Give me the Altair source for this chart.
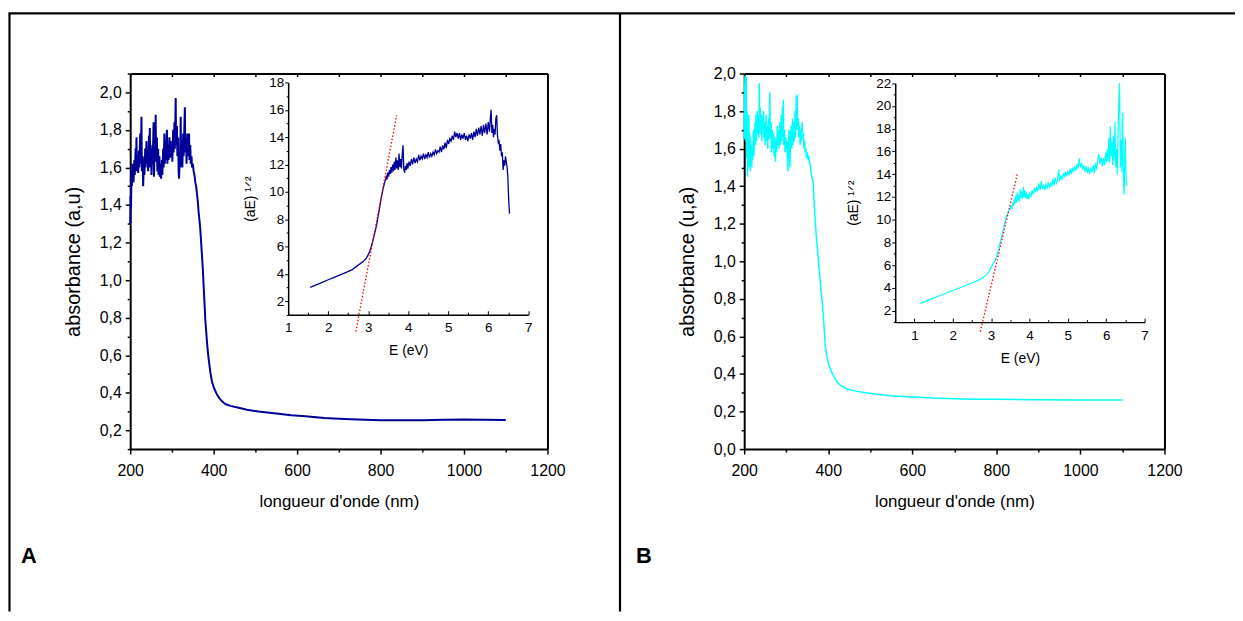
import altair as alt
import pandas as pd

FONT = "Liberation Sans"
W, H = 1235, 605

# ---------------- Sample A : absorbance vs wavelength ----------------
wl_A = [200, 201, 202, 203, 204, 205, 206, 207, 208, 210, 211, 213, 214, 215, 216, 218, 219,
        221, 222, 224, 225, 227, 228, 230, 231, 233, 234, 236, 237, 239, 240, 242, 243, 245,
        246, 247, 248, 250, 251, 253, 254, 256, 257, 259, 260, 261, 262, 264, 265, 267, 268,
        270, 271, 273, 274, 276, 277, 279, 280, 282, 283, 285, 286, 288, 289, 291, 292, 294,
        295, 297, 298, 300, 301, 303, 304, 306, 307, 309, 310, 312, 313, 315, 316, 317, 319,
        320, 321, 322, 324, 325, 327, 328, 330, 331, 332, 334, 335, 337, 338, 340, 341, 342,
        344, 345, 347, 348, 350, 352, 354, 356, 358, 360, 362, 364, 366, 368, 370, 372, 374,
        376, 378, 380, 382, 384, 386, 388, 392, 396, 400, 404, 408, 414, 420, 428, 440, 460,
        480, 507, 550, 586, 620, 665, 700, 745, 800, 850, 900, 950, 1000, 1050, 1100]
abs_A = [1.30, 1.45, 1.38, 1.58, 1.50, 1.62, 1.54, 1.60, 1.52, 1.64, 1.56, 1.70, 1.58, 1.76,
         1.60, 1.66, 1.57, 1.69, 1.60, 1.78, 1.62, 1.87, 1.58, 1.66, 1.50, 1.64, 1.56, 1.70,
         1.60, 1.74, 1.62, 1.68, 1.58, 1.77, 1.64, 1.81, 1.60, 1.70, 1.56, 1.72, 1.62, 1.84,
         1.55, 1.75, 1.63, 1.88, 1.66, 1.76, 1.58, 1.70, 1.56, 1.66, 1.55, 1.62, 1.54, 1.64,
         1.56, 1.70, 1.60, 1.78, 1.62, 1.74, 1.64, 1.80, 1.62, 1.72, 1.64, 1.76, 1.65, 1.74,
         1.66, 1.72, 1.63, 1.80, 1.68, 1.84, 1.70, 1.97, 1.72, 1.82, 1.66, 1.76, 1.58, 1.54,
         1.66, 1.60, 1.87, 1.64, 1.74, 1.60, 1.78, 1.66, 1.84, 1.92, 1.68, 1.76, 1.62, 1.78,
         1.66, 1.74, 1.78, 1.64, 1.72, 1.62, 1.66, 1.60, 1.62, 1.58, 1.56, 1.52, 1.50, 1.46,
         1.42, 1.36, 1.32, 1.27, 1.20, 1.13, 1.06, 0.97, 0.88, 0.79, 0.73, 0.67, 0.62, 0.58,
         0.51, 0.46, 0.43, 0.41, 0.39, 0.37, 0.355, 0.34, 0.33, 0.32, 0.31, 0.30, 0.29, 0.28,
         0.275, 0.265, 0.261, 0.257, 0.254, 0.253, 0.254, 0.256, 0.258, 0.256, 0.255]

# ---------------- Sample A : (aE)^1/2 vs E (inset) ----------------
e_A = [1.55, 1.70, 1.85, 2.00, 2.15, 2.30, 2.45, 2.60, 2.70, 2.78, 2.85, 2.90, 2.95, 3.00,
       3.04, 3.07, 3.10, 3.13, 3.16, 3.19, 3.22, 3.25, 3.28, 3.31, 3.34, 3.37, 3.40, 3.43,
       3.45, 3.47, 3.49, 3.51, 3.53, 3.55, 3.57, 3.59, 3.61, 3.63, 3.65, 3.67, 3.69, 3.71,
       3.73, 3.75, 3.77, 3.79, 3.81, 3.83, 3.85, 3.87, 3.89, 3.91, 3.93, 3.95, 3.97, 3.99,
       4.02, 4.05, 4.08, 4.11, 4.14, 4.17, 4.20, 4.23, 4.26, 4.29, 4.32, 4.35, 4.38, 4.41,
       4.44, 4.47, 4.50, 4.53, 4.56, 4.59, 4.62, 4.65, 4.68, 4.71, 4.74, 4.77, 4.80, 4.83,
       4.86, 4.89, 4.92, 4.95, 4.98, 5.01, 5.04, 5.07, 5.10, 5.13, 5.16, 5.19, 5.22, 5.25,
       5.28, 5.31, 5.34, 5.37, 5.40, 5.43, 5.46, 5.49, 5.52, 5.55, 5.58, 5.61, 5.64, 5.67,
       5.70, 5.73, 5.76, 5.79, 5.82, 5.85, 5.88, 5.91, 5.94, 5.97, 6.00, 6.03, 6.05, 6.07,
       6.09, 6.11, 6.13, 6.15, 6.17, 6.19, 6.21, 6.23, 6.25, 6.27, 6.29, 6.31, 6.33, 6.35,
       6.37, 6.39, 6.41, 6.43, 6.45, 6.47, 6.49, 6.51, 6.53]
sq_A = [3.00, 3.18, 3.37, 3.56, 3.74, 3.92, 4.10, 4.30, 4.52, 4.70, 4.85, 4.97, 5.12, 5.40,
        5.65, 5.95, 6.25, 6.60, 6.95, 7.30, 7.75, 8.25, 8.75, 9.30, 9.75, 10.20, 10.55, 10.85,
        11.10, 10.90, 11.40, 11.10, 11.60, 11.30, 11.80, 11.40, 12.00, 11.50, 12.20, 11.60,
        12.50, 11.70, 12.30, 11.60, 12.80, 11.80, 12.40, 11.70, 12.70, 13.40, 11.60, 11.40,
        11.90, 11.60, 12.10, 11.70, 12.20, 11.90, 12.40, 12.00, 12.50, 12.10, 12.40, 12.20,
        12.70, 12.30, 12.60, 12.40, 12.80, 12.40, 12.70, 12.50, 12.90, 12.50, 12.80, 12.60,
        12.90, 12.70, 13.10, 12.80, 13.00, 12.90, 13.30, 12.90, 13.40, 13.10, 13.60, 13.20,
        13.80, 13.50, 13.90, 13.70, 14.10, 13.80, 14.40, 14.00, 14.30, 13.90, 14.30, 13.80,
        14.20, 13.90, 14.30, 13.80, 14.10, 13.70, 14.20, 13.90, 14.30, 13.80, 14.40, 14.00,
        14.60, 14.10, 14.70, 14.20, 14.80, 14.10, 14.90, 14.30, 15.00, 14.20, 15.10, 14.40,
        15.30, 16.00, 14.30, 14.90, 14.00, 14.60, 14.20, 15.40, 15.60, 14.10, 13.60, 13.70,
        13.00, 13.50, 12.60, 12.90, 11.60, 12.30, 11.90, 12.60, 12.20, 11.80, 11.00, 9.40, 8.40]
fit_A_e = [2.69, 3.71]
fit_A_y = [-0.23, 15.6]

# ---------------- Sample B : absorbance vs wavelength ----------------
wl_B = [200, 201, 202, 203, 204, 205, 206, 207, 208, 209, 210, 211, 212, 213, 214, 215, 216,
        217, 218, 219, 220, 222, 223, 224, 226, 227, 228, 229, 231, 232, 234, 235, 236, 237,
        238, 239, 241, 242, 243, 245, 246, 247, 249, 250, 252, 253, 255, 256, 258, 259, 261,
        262, 264, 265, 267, 268, 270, 271, 273, 274, 276, 277, 279, 280, 282, 283, 285, 286,
        288, 289, 291, 292, 293, 294, 296, 297, 299, 300, 302, 303, 304, 305, 307, 308, 309,
        310, 312, 313, 315, 316, 318, 319, 321, 322, 324, 325, 326, 327, 329, 330, 332, 333,
        335, 336, 338, 339, 341, 342, 344, 345, 347, 348, 350, 352, 354, 356, 358, 360, 362,
        364, 368, 372, 376, 380, 384, 388, 390, 393, 396, 400, 403, 408, 415, 422, 431, 445,
        462, 490, 525, 557, 604, 650, 700, 750, 800, 900, 1000, 1100]
abs_B = [1.65, 1.90, 1.99, 1.70, 1.64, 1.98, 1.55, 1.80, 1.45, 1.72, 1.50, 1.78, 1.52, 1.68,
         1.48, 1.66, 1.53, 1.62, 1.50, 1.60, 1.54, 1.70, 1.56, 1.64, 1.74, 1.62, 1.78, 1.64,
         1.80, 1.68, 1.76, 1.66, 1.95, 1.70, 1.82, 1.68, 1.78, 1.64, 1.76, 1.70, 1.80, 1.66,
         1.74, 1.62, 1.78, 1.64, 1.72, 1.60, 1.76, 1.65, 1.90, 1.66, 1.74, 1.58, 1.70, 1.60,
         1.68, 1.56, 1.66, 1.53, 1.64, 1.58, 1.72, 1.62, 1.70, 1.60, 1.74, 1.62, 1.78, 1.64,
         1.82, 1.66, 1.86, 1.62, 1.70, 1.58, 1.66, 1.60, 1.64, 1.55, 1.48, 1.62, 1.70, 1.56,
         1.50, 1.66, 1.72, 1.60, 1.76, 1.62, 1.74, 1.64, 1.80, 1.66, 1.88, 1.70, 1.89, 1.72,
         1.76, 1.66, 1.72, 1.62, 1.70, 1.64, 1.74, 1.66, 1.68, 1.60, 1.64, 1.58, 1.60, 1.55,
         1.58, 1.54, 1.56, 1.52, 1.50, 1.46, 1.44, 1.43, 1.25, 1.12, 1.02, 0.92, 0.82, 0.72,
         0.65, 0.55, 0.50, 0.46, 0.44, 0.41, 0.38, 0.355, 0.335, 0.32, 0.31, 0.30, 0.29, 0.283,
         0.278, 0.272, 0.268, 0.266, 0.265, 0.263, 0.262, 0.261]

# ---------------- Sample B : (aE)^1/2 vs E (inset) ----------------
e_B = [1.15, 1.40, 1.65, 1.90, 2.15, 2.40, 2.60, 2.72, 2.81, 2.88, 2.94, 2.98, 3.04, 3.11,
       3.17, 3.22, 3.27, 3.32, 3.37, 3.41, 3.45, 3.50, 3.52, 3.54, 3.56, 3.58, 3.60, 3.62,
       3.64, 3.66, 3.68, 3.70, 3.72, 3.74, 3.76, 3.78, 3.80, 3.82, 3.84, 3.86, 3.88, 3.90,
       3.92, 3.94, 3.96, 3.98, 4.01, 4.04, 4.07, 4.10, 4.13, 4.16, 4.19, 4.22, 4.25, 4.28,
       4.31, 4.34, 4.37, 4.40, 4.43, 4.46, 4.49, 4.52, 4.55, 4.58, 4.61, 4.64, 4.67, 4.70,
       4.73, 4.76, 4.79, 4.82, 4.85, 4.88, 4.91, 4.94, 4.97, 5.00, 5.03, 5.06, 5.09, 5.12,
       5.15, 5.18, 5.21, 5.24, 5.27, 5.30, 5.33, 5.36, 5.39, 5.42, 5.45, 5.48, 5.51, 5.54,
       5.57, 5.60, 5.63, 5.66, 5.69, 5.72, 5.75, 5.78, 5.81, 5.84, 5.87, 5.90, 5.93, 5.96,
       5.99, 6.01, 6.03, 6.05, 6.07, 6.09, 6.11, 6.13, 6.15, 6.17, 6.19, 6.21, 6.23, 6.25,
       6.27, 6.29, 6.31, 6.33, 6.35, 6.37, 6.39, 6.41, 6.43, 6.45, 6.47, 6.49, 6.50, 6.52, 6.54]
sq_B = [2.65, 2.98, 3.32, 3.65, 3.98, 4.31, 4.58, 4.78, 4.97, 5.15, 5.40, 5.70, 6.05, 6.43,
        7.05, 7.74, 8.45, 9.20, 9.85, 10.36, 10.70, 10.95, 11.20, 10.90, 11.50, 11.20, 11.80,
        11.40, 12.10, 11.50, 12.40, 11.70, 12.20, 11.60, 12.70, 11.90, 12.50, 11.80, 12.90,
        12.00, 12.60, 11.90, 12.40, 11.80, 12.20, 11.80, 12.30, 12.00, 12.60, 12.20, 12.80,
        12.40, 12.90, 12.50, 13.20, 12.60, 13.40, 12.70, 13.00, 12.60, 13.10, 12.80, 13.30,
        12.80, 13.20, 12.90, 13.60, 13.00, 13.70, 13.20, 13.50, 14.40, 13.40, 13.90, 13.50,
        14.10, 13.70, 14.20, 13.80, 14.30, 13.90, 14.50, 14.00, 14.60, 14.20, 14.70, 14.30,
        14.90, 14.50, 15.40, 14.60, 15.00, 14.40, 14.80, 14.20, 14.70, 14.10, 14.60, 14.00,
        14.50, 14.20, 14.80, 14.10, 15.00, 14.40, 15.20, 15.80, 14.90, 15.50, 14.70, 15.40,
        14.80, 15.90, 15.00, 16.20, 15.20, 17.20, 15.00, 18.20, 15.60, 16.80, 14.80, 17.40,
        15.20, 18.60, 14.60, 16.20, 14.00, 17.40, 20.50, 22.00, 14.60, 17.00, 14.20, 19.40,
        13.60, 12.20, 16.00, 17.20, 13.60, 13.00]
fit_B_e = [2.72, 3.69]
fit_B_y = [0.17, 14.1]

frame_t = [0, 1]

# ---------------- helpers ----------------
def ax(orient, offset, **kw):
    base = dict(orient=orient, offset=offset, grid=False, domainColor="black",
                tickColor="black", labelColor="black", labelFont=FONT, titleFont=FONT,
                titleColor="black", titleFontWeight="normal", labelOverlap=False,
                labelFlush=False, labelBound=False)
    base.update(kw)
    return alt.Axis(**base)

def tsize(test, major, minor):
    return {"condition": {"test": test, "value": major}, "value": minor}

comma_y = "round(datum.value*10) % 2 == 0 ? replace(format(datum.value, '.1f'), '.', ',') : ''"
comma_t = "round(datum.value*10) % 2 == 0"
x_main_vals = list(range(200, 1201, 100))
y_main_A_vals = [round(0.1 * i, 1) for i in range(1, 22)]
y_main_B_vals = [round(0.1 * i, 1) for i in range(0, 21)]

def main_panel(df, color, width, xr, yd, yr, yvals, ytitle):
    xs = alt.Scale(domain=[200, 1200], range=xr, nice=False, zero=False)
    ys = alt.Scale(domain=yd, range=yr, nice=False, zero=False)
    line = alt.Chart(df).mark_line(color=color, strokeWidth=width, clip=False).encode(
        x=alt.X("wl:Q", scale=xs, title="longueur d'onde (nm)",
                axis=ax("bottom", yr[0] - H, values=x_main_vals, format="d",
                        labelExpr="datum.value % 200 == 0 ? datum.label : ''",
                        tickSize=tsize("datum.value % 200 == 0", 5, 3), tickWidth=1.5,
                        domainWidth=2, labelFontSize=16, titleFontSize=17,
                        labelPadding=9, titlePadding=15)),
        y=alt.Y("a:Q", scale=ys, title=ytitle,
                axis=ax("left", -xr[0], values=yvals, labelExpr=comma_y,
                        tickSize=tsize(comma_t, 5, 3), tickWidth=1.5, domainWidth=2,
                        labelFontSize=16, titleFontSize=20, labelPadding=4,
                        titlePadding=16)),
    )
    frame = alt.Chart(df).mark_point(opacity=0).encode(
        x=alt.X("wl:Q", scale=xs, title="",
                axis=ax("bottom", yr[1] - H, values=x_main_vals, labels=False,
                        tickSize=3, tickWidth=1.5, domainWidth=2)),
        y=alt.Y("a:Q", scale=ys, title="",
                axis=ax("left", -xr[1], labels=False, ticks=False, domainWidth=2)),
    )
    return [line, frame]

def inset_panel(df, fit, color, width, xd, xr, xvals, yd, yr, yvals, ytpad):
    xs = alt.Scale(domain=xd, range=xr, nice=False, zero=False)
    ys = alt.Scale(domain=yd, range=yr, nice=False, zero=False)
    line = alt.Chart(df).mark_line(color=color, strokeWidth=width, clip=False).encode(
        x=alt.X("e:Q", scale=xs, title="E (eV)",
                axis=ax("bottom", yr[0] - H, values=xvals, ticks=False,
                        labelExpr="datum.value % 1 == 0 ? format(datum.value, 'd') : ''",
                        domainWidth=1.5, labelFontSize=13.5, titleFontSize=14,
                        labelPadding=6, titlePadding=10)),
        y=alt.Y("s:Q", scale=ys, title="(aE) \u00b9\u141f\u00b2",
                axis=ax("left", -xr[0], values=yvals,
                        labelExpr="datum.value % 2 == 0 ? format(datum.value, 'd') : ''",
                        tickSize=tsize("datum.value % 2 == 0", 3.5, 2), tickWidth=1,
                        domainWidth=1.5, labelFontSize=13.5, titleFontSize=14,
                        labelPadding=1, titlePadding=ytpad)),
    )
    fitl = alt.Chart(fit).mark_line(color="#ff0000", strokeWidth=1.3, strokeDash=[1.5, 2],
                                    clip=False).encode(
        x=alt.X("e:Q", scale=xs, title="",
                axis=ax("top", -yr[0], values=xvals, labels=False, domain=False,
                        tickSize=tsize("datum.value % 1 == 0", 4, 2.5), tickWidth=1)),
        y=alt.Y("s:Q", scale=ys, axis=None),
    )
    return [line, fitl]

# ---------------- data frames ----------------
dfA = pd.DataFrame({"wl": wl_A, "a": abs_A})
dfB = pd.DataFrame({"wl": wl_B, "a": abs_B})
inA = pd.DataFrame({"e": e_A, "s": sq_A})
inB = pd.DataFrame({"e": e_B, "s": sq_B})
fitA = pd.DataFrame({"e": fit_A_e, "s": fit_A_y})
fitB = pd.DataFrame({"e": fit_B_e, "s": fit_B_y})
frm = pd.DataFrame({"t": frame_t})

# ---------------- table lines ----------------
ts_x = alt.Scale(domain=[0, 1], range=[0, W], nice=False, zero=False)
ts_y = alt.Scale(domain=[0, 1], range=[3, H], nice=False, zero=False)
table1 = alt.Chart(frm).mark_point(opacity=0).encode(
    x=alt.X("t:Q", scale=ts_x, title="",
            axis=ax("top", -3, labels=False, ticks=False, domainWidth=2.2)),
    y=alt.Y("t:Q", scale=ts_y, title="",
            axis=ax("left", -1, labels=False, ticks=False, domainWidth=2.2)),
)
table2 = alt.Chart(frm).mark_point(opacity=0).encode(
    x=alt.X("t:Q", scale=ts_x, axis=None),
    y=alt.Y("t:Q", scale=ts_y, title="",
            axis=ax("left", -615.5, labels=False, ticks=False, domainWidth=2.2)),
)

labA = alt.Chart(pd.DataFrame({"p": ["A"]})).mark_text(
    font=FONT, fontSize=22, fontWeight="bold", align="left", baseline="alphabetic",
    color="black").encode(text="p:N", x=alt.value(13), y=alt.value(557))
labB = alt.Chart(pd.DataFrame({"p": ["B"]})).mark_text(
    font=FONT, fontSize=22, fontWeight="bold", align="left", baseline="alphabetic",
    color="black").encode(text="p:N", x=alt.value(632), y=alt.value(557))

layers = [table1, table2]
layers += main_panel(dfA, "#000099", 2, [123, 543], [0.1, 2.1], [442, 64],
                     y_main_A_vals, "absorbance (a,u)")
layers += inset_panel(inA, fitA, "#000099", 1.3, [1, 7], [282, 523.7],
                      [1 + 0.5 * i for i in range(13)], [1, 18], [306.75, 73],
                      list(range(1, 19)), 11)
layers += main_panel(dfB, "#00ffff", 1.5, [741, 1164], [0, 2.0], [442, 64],
                     y_main_B_vals, "absorbance (u,a)")
layers += inset_panel(inB, fitB, "#00ffff", 1.2, [0.5, 7], [893, 1143.9],
                      [0.5 + 0.5 * i for i in range(14)], [1, 22], [314.2, 73.7],
                      list(range(1, 23)), 15)
layers += [labA, labB]

chart = alt.layer(*layers).resolve_scale(x="independent", y="independent").properties(
    width=W, height=H, autosize=alt.AutoSizeParams(type="none"), padding=0,
    background="white"
).configure_view(strokeWidth=0)

chart.save("out.html", embed_options={"renderer": "svg", "actions": False})
